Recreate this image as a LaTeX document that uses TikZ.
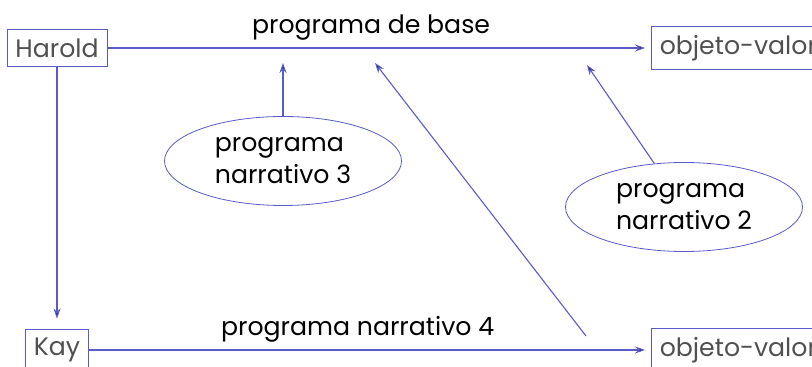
\documentclass[tikz,border=0pt]{standalone}
\usepackage{fontspec}
\setmainfont{Poppins}
\usetikzlibrary{shapes.geometric, arrows.meta, positioning}

\definecolor{lineblue}{RGB}{90,90,200}
\definecolor{boxgrey}{RGB}{80,80,80}

\begin{document}
\begin{tikzpicture}[x=0.5pt, y=-0.5pt,
		font=\fontsize{12.6}{16}\selectfont,
		actant/.style={draw=lineblue, text=boxgrey, inner xsep=4.2pt, inner ysep=4.5pt},
		pn/.style={ellipse, draw=lineblue, minimum width=118.5pt, minimum height=44.5pt, inner sep=0pt, align=left}]
		
		\useasboundingbox (0,0) rectangle (812,367);
		
		\node[actant] (harold) at (57,48) {Harold};
		\node[actant] (kay) at (57,350) {Kay};
		\node[actant, anchor=west] (ov1) at (651,48) {objeto-valor};
		\node[actant, anchor=west] (ov2) at (651,350) {objeto-valor};
		\node[pn] (pn3) at (283,161) {programa\\narrativo 3};
		\node[pn] (pn2) at (684,207) {programa\\narrativo 2};
		
		\coordinate (t3) at (283,63);
		\coordinate (t2) at (587,65);
		\coordinate (t4) at (375,63);
		\coordinate (s4) at (586,336);
		
		\draw[draw=lineblue, line width=0.55pt, >={Stealth[length=5pt, width=3.5pt]}]
		(harold) edge[->, shorten >=3pt] node[above, pos=0.485] {programa de base} (ov1)
		(kay) edge[->, shorten >=3pt] node[above, pos=0.478] {programa narrativo 4} (ov2)
		(harold) edge[->, shorten >=5pt] (kay)
		(pn3) edge[->] (t3)
		(pn2) edge[->] (t2)
		(s4) edge[->] (t4);
		\end{tikzpicture}
\end{document}
